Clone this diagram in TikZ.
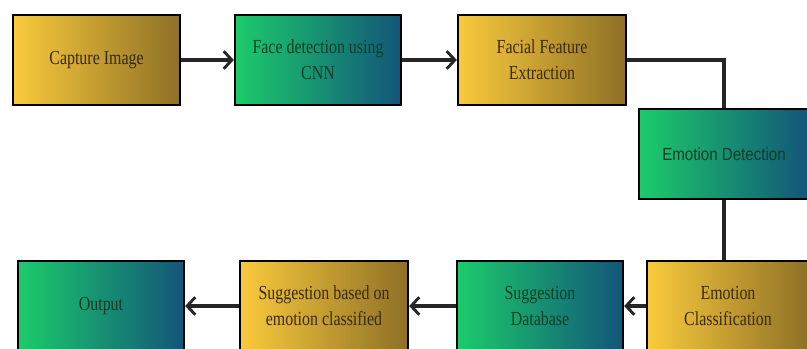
\documentclass[tikz,border=0pt]{standalone}
\usepackage{fontspec}
\setmainfont[FakeStretch=0.8]{Liberation Serif}
\newfontfamily\boxsans[FakeStretch=0.86]{Liberation Sans}
\usepackage{xcolor}
\definecolor{goldL}{HTML}{F9CA3C}
\definecolor{goldR}{HTML}{8E7026}
\definecolor{greenL}{HTML}{1CCB6B}
\definecolor{blueR}{HTML}{135579}
\definecolor{inkbrown}{HTML}{3A2A0E}
\definecolor{inkgreen}{HTML}{0C3F26}
\usepackage{tikz}
\usetikzlibrary{positioning,arrows.meta}

\begin{document}
\begin{tikzpicture}[x=0.03cm, y=-0.03cm,
    stage/.style={rectangle, draw=black, line width=2pt, minimum height=2.7cm,
      align=center, font=\fontsize{17}{22}\selectfont},
    goldbox/.style={stage, left color=goldL, right color=goldR, text=inkbrown},
    greenbox/.style={stage, left color=greenL, right color=blueR, text=inkgreen},
    link/.style={draw=black!85, line width=3pt},
    flow/.style={link, -{Straight Barb[length=7pt, width=15pt, line width=2.4pt]}}]
  \useasboundingbox (0,0) rectangle (807,349);
  % top row
  \node[goldbox, minimum width=5.0cm] (capture) at (96.5,60) {Capture Image};
  \node[greenbox, minimum width=4.98cm] (facecnn) at (318,60) {Face detection using\\CNN};
  \node[goldbox, minimum width=5.04cm] (feature) at (542,60) {Facial Feature\\Extraction};
  % right column
  \node[greenbox, minimum width=5.1cm, font=\boxsans\fontsize{15}{19}\selectfont] (emodet) at (724,154) {Emotion Detection};
  % bottom row
  \node[goldbox, minimum width=4.86cm] (emoclass) at (728,306) {Emotion\\Classification};
  \node[greenbox, minimum width=4.98cm] (sugdb) at (540,306) {Suggestion\\Database};
  \node[goldbox, minimum width=5.04cm] (sugemo) at (324,306) {Suggestion based on\\emotion classified};
  \node[greenbox, minimum width=4.98cm] (output) at (101,306) {Output};

  \draw[flow] (capture) -- (facecnn);
  \draw[flow] (facecnn) -- (feature);
  \draw[link] (feature.east) -| (emodet.north);
  \draw[link] (emodet.south) -- (emodet.south |- emoclass.north);
  \draw[flow] (emoclass) -- (sugdb);
  \draw[flow] (sugdb) -- (sugemo);
  \draw[flow] (sugemo) -- (output);
\end{tikzpicture}
\end{document}
